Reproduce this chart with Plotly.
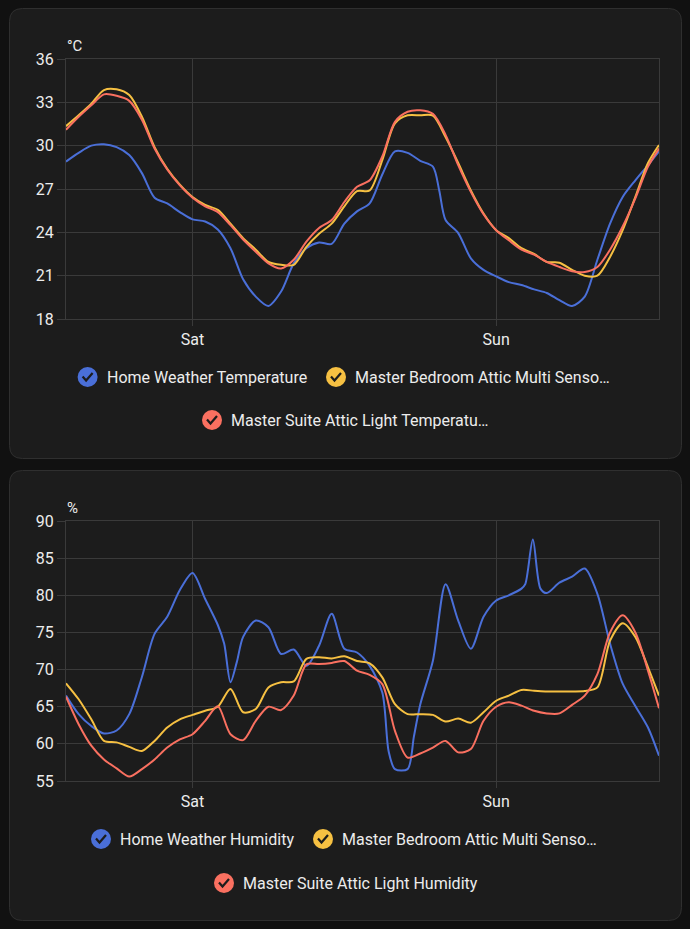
import plotly.graph_objects as go
import pandas as pd

W, H = 690, 929
BASE = pd.Timestamp("2024-06-15 00:00")  # Saturday midnight
X_START_H, X_END_H = -10.0, 36.87

# ---------------- Temperature data (hours relative to Sat 00:00) ----------------
temp_home_h = [-10, -9, -8, -7, -6, -5, -4, -3, -2, -1, 0, 1, 2, 3, 4, 5, 6, 7, 8, 9, 10, 11, 12, 13,
               14, 15, 16, 17, 18, 19, 19.5, 20, 21, 22, 23, 24, 25, 26, 27, 28, 29, 30, 31, 32, 33, 34, 35, 36, 36.87]
temp_home = [28.9, 29.5, 30.0, 30.1, 29.9, 29.35, 28.1, 26.4, 26.0, 25.4, 24.9, 24.75, 24.2, 22.9, 20.75, 19.55,
             18.9, 19.9, 21.85, 22.9, 23.3, 23.2, 24.6, 25.45, 26.0, 28.0, 29.6, 29.5, 28.95, 28.55, 26.9, 24.85,
             23.95, 22.2, 21.4, 20.95, 20.55, 20.35, 20.05, 19.8, 19.3, 18.9, 19.55, 22.1, 24.6, 26.45, 27.6, 28.65, 29.6]

temp_bed_h = [-10, -9, -8, -7, -6, -5, -4, -3, -2, -1, 0, 1, 2, 3, 4, 5, 6, 7, 8, 9, 10, 11, 12, 13,
              14, 15, 16, 17, 18, 19, 20, 21, 22, 23, 24, 25, 26, 27, 28, 29, 30, 31, 32, 33, 34, 35, 36, 36.87]
temp_bed = [31.35, 32.1, 32.9, 33.85, 33.9, 33.5, 32.0, 29.9, 28.4, 27.3, 26.45, 25.9, 25.55, 24.6, 23.6, 22.8,
            21.95, 21.75, 21.75, 23.0, 23.9, 24.6, 25.8, 26.85, 26.9, 29.0, 31.55, 32.1, 32.1, 32.08, 30.6, 28.8,
            26.9, 25.3, 24.15, 23.6, 22.9, 22.5, 21.95, 21.9, 21.4, 21.0, 21.0, 22.3, 24.15, 26.45, 28.8, 30.05]

temp_suite_h = temp_bed_h
temp_suite = [31.1, 32.0, 32.8, 33.55, 33.45, 33.1, 31.8, 29.8, 28.35, 27.25, 26.4, 25.8, 25.4, 24.5, 23.5, 22.65,
              21.85, 21.5, 22.1, 23.35, 24.3, 24.85, 26.1, 27.15, 27.6, 29.25, 31.65, 32.35, 32.45, 32.2, 30.75, 28.65,
              26.8, 25.25, 24.15, 23.45, 22.8, 22.45, 21.95, 21.6, 21.3, 21.25, 21.6, 22.8, 24.4, 26.35, 28.55, 29.8]

# ---------------- Humidity data ----------------
hum_home_h = [-10, -9, -8, -7, -6, -5, -4, -3, -2, -1, 0, 1, 2, 2.5, 3, 3.5, 4, 5, 6, 7, 8, 9, 10, 11, 12, 13,
              14, 15, 15.5, 16, 17, 17.5, 18, 19, 20, 21, 22, 23, 24, 25, 26, 26.3, 26.9, 27.5, 28, 29, 30, 31,
              32, 33, 34, 35, 36, 36.87]
hum_home = [66.5, 64.0, 62.4, 61.4, 61.8, 64.0, 69.0, 74.8, 77.1, 80.7, 83.0, 79.5, 76.0, 73.5, 68.3, 71.0, 74.4,
            76.6, 75.7, 72.1, 72.7, 70.5, 73.2, 77.5, 72.8, 72.3, 70.5, 66.9, 59.0, 56.6, 56.6, 61.0, 65.3, 71.2,
            81.5, 76.6, 72.8, 77.1, 79.3, 80.0, 80.9, 81.5, 87.5, 80.9, 80.3, 81.7, 82.5, 83.6, 80.2, 73.5, 68.1,
            65.1, 62.2, 58.4]

hum_bed_h = [-10, -9, -8, -7, -6, -5, -4, -3, -2, -1, 0, 1, 2, 3, 4, 5, 6, 7, 8, 9, 10, 11, 12, 13,
             14, 15, 16, 17, 18, 19, 20, 21, 22, 23, 24, 25, 26, 27, 28, 29, 30, 31, 32, 33, 34, 35, 36, 36.87]
hum_bed = [68.15, 66.0, 63.3, 60.4, 60.2, 59.6, 59.05, 60.4, 62.2, 63.3, 63.9, 64.45, 65.0, 67.4, 64.25, 64.7,
           67.6, 68.3, 68.4, 71.45, 71.65, 71.5, 71.8, 71.15, 70.85, 68.95, 65.35, 64.0, 64.0, 63.9, 63.0, 63.4,
           62.85, 64.25, 65.8, 66.5, 67.25, 67.15, 67.05, 67.05, 67.05, 67.1, 67.6, 73.9, 76.25, 74.4, 70.3, 66.5]

hum_suite_h = hum_bed_h
hum_suite = [66.35, 62.65, 59.75, 57.9, 56.7, 55.6, 56.6, 57.9, 59.5, 60.6, 61.3, 63.1, 65.05, 61.3, 60.5, 63.1,
             65.0, 64.55, 66.5, 70.7, 70.75, 70.9, 71.15, 69.85, 69.3, 68.05, 61.75, 58.15, 58.7, 59.5, 60.4, 58.85,
             59.3, 63.1, 65.0, 65.6, 65.15, 64.45, 64.1, 64.1, 65.25, 66.5, 69.4, 75.0, 77.3, 75.0, 69.85, 64.8]

temp_ticks = [18, 21, 24, 27, 30, 33, 36]
hum_ticks = [55, 60, 65, 70, 75, 80, 85, 90]

temp_names = ["Home Weather Temperature", "Master Bedroom Attic Multi Senso…", "Master Suite Attic Light Temperatu…"]
hum_names = ["Home Weather Humidity", "Master Bedroom Attic Multi Senso…", "Master Suite Attic Light Humidity"]
colors = ["#4a6fd8", "#f6c042", "#fa7060"]

PAGE_BG = "#111111"
CARD_BG = "#1c1c1c"
CARD_BORDER = "#2f2f2f"
GRID = "#3a3a3a"
TEXT = "#ececec"
FONT = "Roboto"


def t(hours):
    return [BASE + pd.Timedelta(hours=h) for h in hours]


def X(px):
    return px / W


def Y(py):
    return 1 - py / H


fig = go.Figure()

series = [
    ("x", "y", temp_home_h, temp_home, temp_names[0], colors[0]),
    ("x", "y", temp_bed_h, temp_bed, temp_names[1], colors[1]),
    ("x", "y", temp_suite_h, temp_suite, temp_names[2], colors[2]),
    ("x2", "y2", hum_home_h, hum_home, hum_names[0], colors[0]),
    ("x2", "y2", hum_bed_h, hum_bed, hum_names[1], colors[1]),
    ("x2", "y2", hum_suite_h, hum_suite, hum_names[2], colors[2]),
]
for xa, ya, hh, vv, name, col in series:
    fig.add_trace(go.Scatter(x=t(hh), y=vv, name=name, mode="lines", xaxis=xa, yaxis=ya,
                             line=dict(color=col, width=2, shape="spline", smoothing=0.8),
                             showlegend=False, hoverinfo="skip"))

x_range = [BASE + pd.Timedelta(hours=X_START_H), BASE + pd.Timedelta(hours=X_END_H)]
xaxis_common = dict(type="date", range=x_range, tickformat="%a", dtick=86400000,
                    tick0=BASE, showgrid=True, gridcolor=GRID, gridwidth=1, automargin=False,
                    showline=True, linecolor=GRID, mirror=True, ticks="outside", ticklen=6,
                    tickcolor=GRID, tickfont=dict(family=FONT, size=16, color=TEXT), zeroline=False)
yaxis_common = dict(showgrid=True, gridcolor=GRID, gridwidth=1, showline=True, linecolor=GRID,
                    mirror=True, ticks="outside", ticklen=8, tickcolor=GRID, automargin=False,
                    tickfont=dict(family=FONT, size=16, color=TEXT), zeroline=False)

fig.update_layout(
    width=W, height=H, autosize=False, margin=dict(l=0, r=0, t=0, b=0, pad=0, autoexpand=False),
    paper_bgcolor=PAGE_BG, plot_bgcolor="rgba(0,0,0,0)",
    font=dict(family=FONT, color=TEXT),
    xaxis=dict(domain=[X(66), X(659)], anchor="y", **xaxis_common),
    yaxis=dict(domain=[Y(319), Y(59)], anchor="x", range=[18, 36], tickvals=temp_ticks, **yaxis_common),
    xaxis2=dict(domain=[X(66), X(659)], anchor="y2", **xaxis_common),
    yaxis2=dict(domain=[Y(781), Y(521)], anchor="x2", range=[55, 90], tickvals=hum_ticks, **yaxis_common),
    showlegend=False,
)


def rounded_rect(x0, y0, x1, y1, r):
    p = [
        f"M {X(x0 + r)} {Y(y0)}",
        f"L {X(x1 - r)} {Y(y0)}",
        f"Q {X(x1)} {Y(y0)} {X(x1)} {Y(y0 + r)}",
        f"L {X(x1)} {Y(y1 - r)}",
        f"Q {X(x1)} {Y(y1)} {X(x1 - r)} {Y(y1)}",
        f"L {X(x0 + r)} {Y(y1)}",
        f"Q {X(x0)} {Y(y1)} {X(x0)} {Y(y1 - r)}",
        f"L {X(x0)} {Y(y0 + r)}",
        f"Q {X(x0)} {Y(y0)} {X(x0 + r)} {Y(y0)}",
        "Z",
    ]
    return " ".join(p)


shapes = []
for (cy0, cy1) in [(8.5, 458.5), (470.5, 920.5)]:
    shapes.append(dict(type="path", xref="paper", yref="paper", path=rounded_rect(9.5, cy0, 681.5, cy1, 13),
                       fillcolor=CARD_BG, line=dict(color=CARD_BORDER, width=1), layer="below"))

annotations = [
    dict(text="°C", x=X(65), y=Y(46), xref="paper", yref="paper", xanchor="left", yanchor="middle",
         showarrow=False, font=dict(family=FONT, size=15, color=TEXT)),
    dict(text="%", x=X(65), y=Y(508), xref="paper", yref="paper", xanchor="left", yanchor="middle",
         showarrow=False, font=dict(family=FONT, size=15, color=TEXT)),
]

legend_items = [
    # (circle center x, row y, text, color)
    (87.6, 377, temp_names[0], colors[0]),
    (336, 377, temp_names[1], colors[1]),
    (212, 420, temp_names[2], colors[2]),
    (101, 839, hum_names[0], colors[0]),
    (323, 839, hum_names[1], colors[1]),
    (224, 883, hum_names[2], colors[2]),
]
for cx, cy, label, col in legend_items:
    shapes.append(dict(type="circle", xref="paper", yref="paper", xsizemode="pixel", ysizemode="pixel",
                       xanchor=X(cx), yanchor=Y(cy), x0=-10, x1=10, y0=-10, y1=10,
                       fillcolor=col, line=dict(width=0)))
    shapes.append(dict(type="path", xref="paper", yref="paper", xsizemode="pixel", ysizemode="pixel",
                       xanchor=X(cx), yanchor=Y(cy), path="M -5 0.5 L -1.5 -3.5 L 5 4",
                       line=dict(color="#1c1c1c", width=2.2)))
    annotations.append(dict(text=label, x=X(cx + 17), y=Y(cy), xref="paper", yref="paper",
                            xanchor="left", yanchor="middle", showarrow=False,
                            font=dict(family=FONT, size=16, color=TEXT)))

fig.update_layout(shapes=shapes, annotations=annotations)
fig.write_html("out.html")
